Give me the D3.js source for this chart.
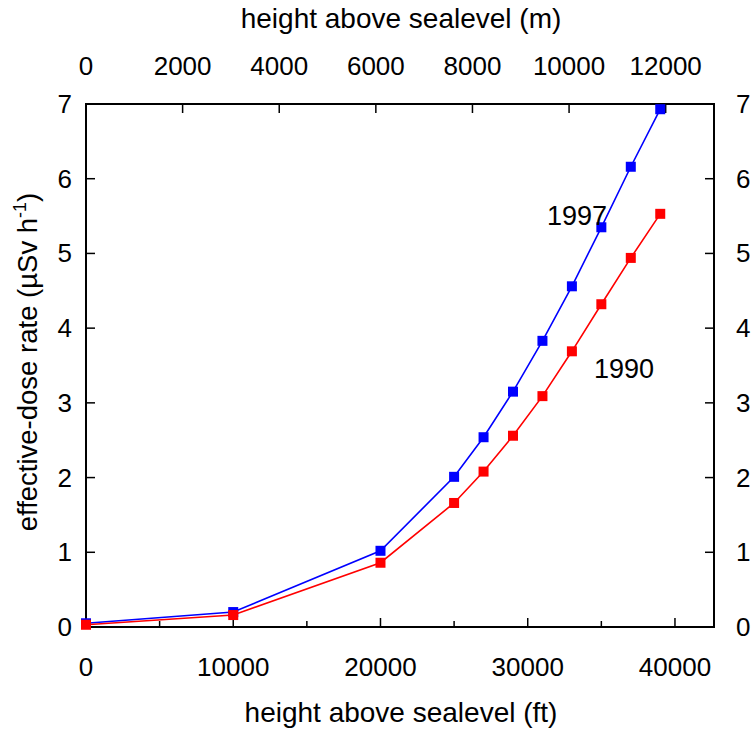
<!DOCTYPE html>
<html><head><meta charset="utf-8">
<script src="https://cdn.jsdelivr.net/npm/d3@7"></script>
<style>body{margin:0;background:#fff}text{font-family:"Liberation Sans",Arial,sans-serif;fill:#000}</style>
</head><body><svg id="c" width="751" height="729"></svg>
<script>
const altitudeFt = [0, 10000, 20000, 25000, 27000, 29000, 31000, 33000, 35000, 37000, 39000];
const dose1997 = [0.05, 0.20, 1.02, 2.01, 2.54, 3.15, 3.83, 4.56, 5.35, 6.16, 6.93];
const dose1990 = [0.03, 0.16, 0.86, 1.66, 2.08, 2.56, 3.09, 3.69, 4.32, 4.94, 5.53];
const ftTicks = [0, 10000, 20000, 30000, 40000];
const ftMinor = [5000, 15000, 25000, 35000];
const mTicks = [0, 2000, 4000, 6000, 8000, 10000, 12000];
const yTicks = [0, 1, 2, 3, 4, 5, 6, 7];
const FT_PER_M = 3.28084;

const svg = d3.select("#c");
const L = 86, R = 714, T = 104, B = 627;
const xm = d3.scaleLinear().domain([0, 13000]).range([L, R]);
const xf = d3.scaleLinear().domain([0, 13000 * FT_PER_M]).range([L, R]);
const y = d3.scaleLinear().domain([0, 7]).range([B, T]);
const fs = 26, fsT = 28;

svg.append("rect").attr("x", L).attr("y", T).attr("width", R - L).attr("height", B - T)
  .attr("fill", "none").attr("stroke", "#000").attr("stroke-width", 2);

const g = svg.append("g").attr("stroke", "#000").attr("stroke-width", 1.5);
ftTicks.forEach(v => g.append("line").attr("x1", xf(v)).attr("x2", xf(v)).attr("y1", B).attr("y2", B - 9));
ftMinor.forEach(v => g.append("line").attr("x1", xf(v)).attr("x2", xf(v)).attr("y1", B).attr("y2", B - 6));
mTicks.forEach(v => g.append("line").attr("x1", xm(v)).attr("x2", xm(v)).attr("y1", T).attr("y2", T + 9));
yTicks.forEach(v => {
  g.append("line").attr("x1", L).attr("x2", L + 9).attr("y1", y(v)).attr("y2", y(v));
  g.append("line").attr("x1", R).attr("x2", R - 9).attr("y1", y(v)).attr("y2", y(v));
});

ftTicks.forEach(v => svg.append("text").attr("x", xf(v)).attr("y", 676).attr("text-anchor", "middle")
  .attr("font-size", fs).text(v));
mTicks.forEach(v => svg.append("text").attr("x", xm(v)).attr("y", 75).attr("text-anchor", "middle")
  .attr("font-size", fs).text(v));
yTicks.forEach(v => {
  svg.append("text").attr("x", 72).attr("y", y(v) + 9).attr("text-anchor", "end").attr("font-size", fs).text(v);
  svg.append("text").attr("x", 736).attr("y", y(v) + 9).attr("text-anchor", "start").attr("font-size", fs).text(v);
});

svg.append("text").attr("x", 401).attr("y", 722).attr("text-anchor", "middle").attr("font-size", fsT)
  .text("height above sealevel (ft)");
svg.append("text").attr("x", 401).attr("y", 28).attr("text-anchor", "middle").attr("font-size", fsT)
  .text("height above sealevel (m)");
const yt = svg.append("text").attr("transform", "translate(37,362) rotate(-90)").attr("text-anchor", "middle")
  .attr("font-size", 27.5);
yt.append("tspan").text("effective-dose rate (\u00b5Sv h");
yt.append("tspan").attr("dy", -11).attr("font-size", 18).text("-1");
yt.append("tspan").attr("dy", 11).text(")");

function series(vals, color) {
  const data = altitudeFt.map((a, i) => [a, vals[i]]);
  const line = d3.line().x(d => xf(d[0])).y(d => y(d[1]));
  svg.append("path").datum(data).attr("d", line).attr("fill", "none").attr("stroke", color).attr("stroke-width", 1.6);
  const s = 10;
  svg.selectAll(null).data(data).enter().append("rect")
    .attr("x", d => xf(d[0]) - s / 2).attr("y", d => y(d[1]) - s / 2)
    .attr("width", s).attr("height", s).attr("fill", color);
}
series(dose1997, "#0000ff");
series(dose1990, "#ff0000");

svg.append("text").attr("x", 577).attr("y", 225).attr("text-anchor", "middle").attr("font-size", 27).text("1997");
svg.append("text").attr("x", 624).attr("y", 378).attr("text-anchor", "middle").attr("font-size", 27).text("1990");
</script></body></html>
